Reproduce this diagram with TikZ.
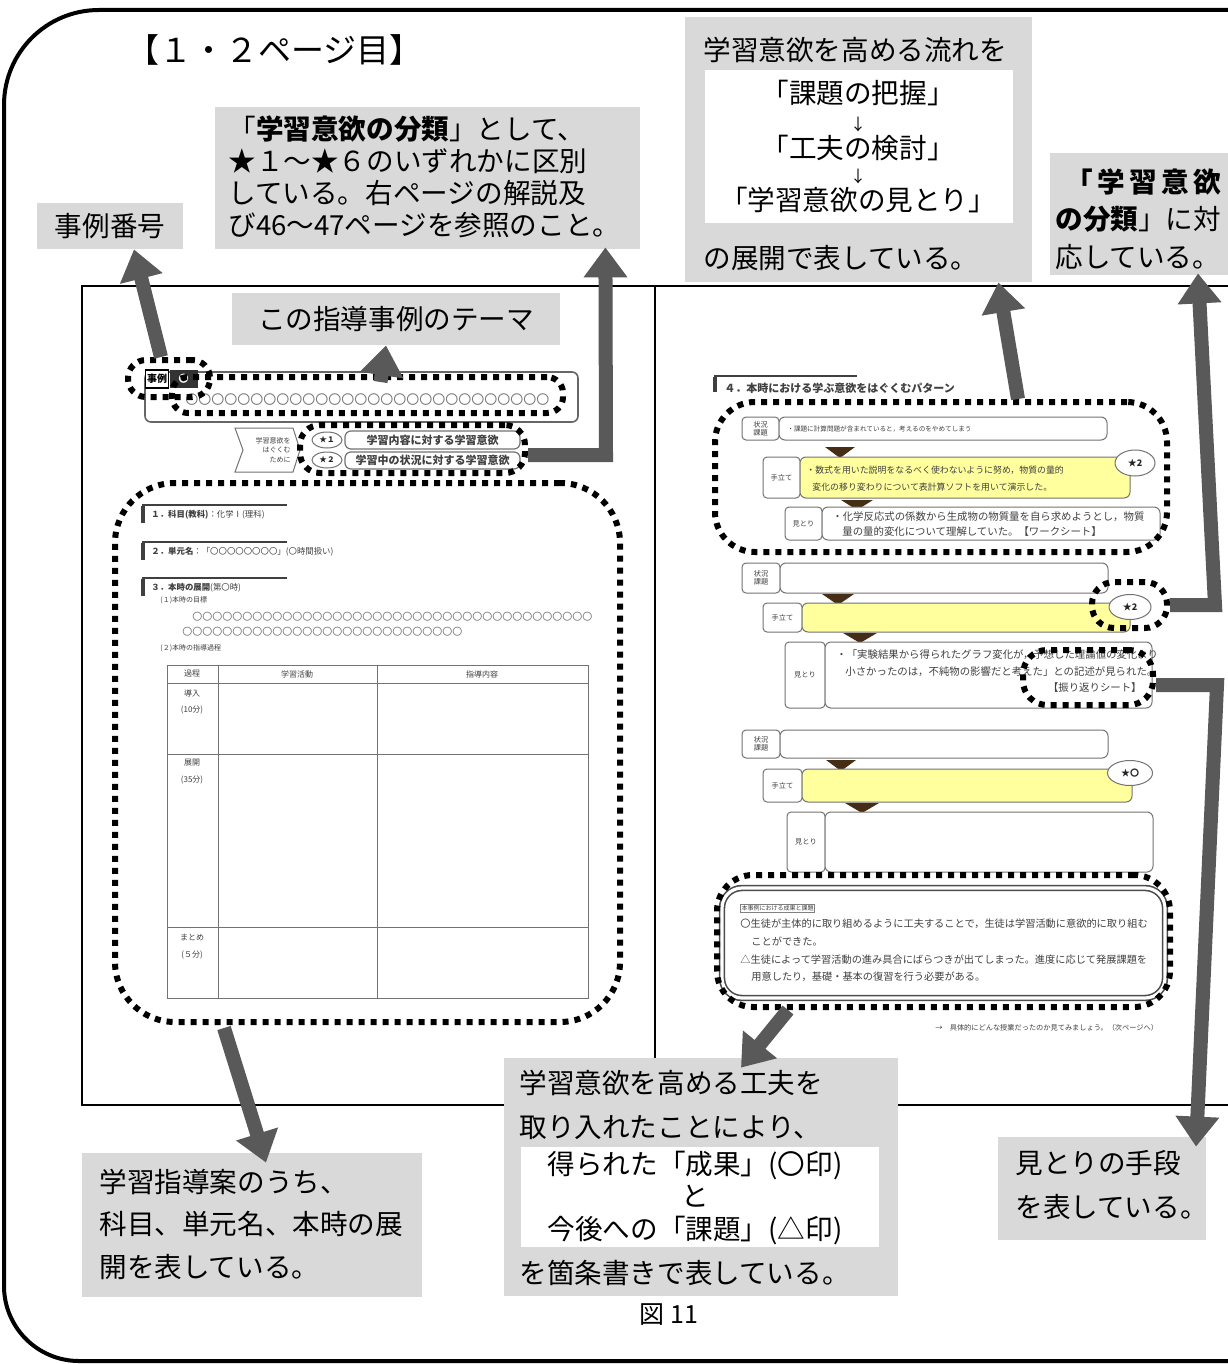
\documentclass[tikz,border=0pt]{standalone}
\usepackage{fontspec}
\setmainfont{Noto Sans CJK JP}
\usetikzlibrary{arrows.meta,shapes.geometric}
\definecolor{boxgray}{RGB}{217,217,217}
\definecolor{arrgray}{RGB}{89,89,89}
\definecolor{lyellow}{RGB}{255,255,158}
\definecolor{brownarr}{RGB}{70,46,22}
\newcommand{\fsz}[1]{\fontsize{#1}{#1}\selectfont}
\newcommand{\sevc}{〇〇〇〇〇〇〇}
\newcommand{\pbx}[7]{\node[#6, minimum width={(#4-#2)*0.5pt}, minimum height={(#5-#3)*0.5pt}] (#1) at ({(#2+#4)/2},{(#3+#5)/2}) {#7};}
\begin{document}
\begin{tikzpicture}[x=0.5pt,y=-0.5pt,
  gbox/.style={fill=boxgray, inner sep=0pt},
  wbox/.style={fill=white, inner sep=0pt},
  ctext/.style={inner sep=0pt, font=\fontsize{13.8}{16}\selectfont},
  tt/.style={inner sep=0pt, text=black!75, anchor=west},
  lbl/.style={draw=black!55, line width=0.5pt, rounded corners=2pt, fill=white, inner sep=0pt, align=center, text=black!75, font=\fontsize{3.6}{4.2}\selectfont},
  cbox/.style={draw=black!55, line width=0.5pt, rounded corners=3pt, fill=white, inner sep=0pt},
  ybox/.style={cbox, fill=lyellow},
  starl/.style={ellipse, draw=black!55, fill=white, line width=0.5pt, inner sep=0pt, text=black!85, font=\fsz{4.5}\bfseries},
  dotbox/.style={draw=black, line width=3pt, dash pattern=on 3pt off 3pt, inner sep=0pt},
  fat/.style={draw=arrgray, line width=7pt, line join=miter, -{Triangle[width=21pt,length=15pt]}},
  tline/.style={draw=black!55, line width=0.5pt}
]
\useasboundingbox (0,0) rectangle (1227,1364);
\fill[white] (0,0) rectangle (1227,1364);

% outer frame
\draw[line width=2pt] (1240,10) -- (99,10) .. controls (46.5,10) and (4,52.5) .. (4,105) -- (4,1286) .. controls (4,1327.4) and (37.6,1361) .. (79,1361) -- (1240,1361);

\node[inner sep=0pt, anchor=west, font=\fsz{16.5}] (title) at (126,50) {【１・２ページ目】};

% page frame
\draw[line width=0.8pt] (1240,286) -- (82,286) -- (82,1105) -- (1240,1105);
\draw[line width=0.8pt] (655,286) -- (655,1105);

% ---------- left page thumbnail ----------
\pbx{themef}{145}{372}{578}{422}{cbox, line width=0.8pt, draw=black!60}{}
\node[tt, font=\fsz{6.5}, text=black!55] (themec) at (185,400) {\sevc\sevc\sevc\sevc};
\node[draw=black, line width=0.7pt, fill=white, inner sep=0.8pt, font=\fsz{5}\bfseries, minimum height=9pt] (jlab) at (157,379) {事例};
\node[fill=black!80, text=white, inner sep=0pt, minimum width=14pt, minimum height=9pt, font=\fsz{5}\bfseries, anchor=west] (jnum) at (jlab.east) {〇};

\draw[tline, fill=white] (235,428) -- (293,428) -- (300,450) -- (293,472) -- (235,472) -- (243,450) -- cycle;
\node[tt, anchor=east, align=right, font=\fontsize{3.5}{4.6}\selectfont] (bant) at (291,450) {学習意欲を\\はぐくむ\\ために};
\node[starl, minimum width=15pt, minimum height=8pt, font=\fsz{3.8}\bfseries] (s1) at (327,440) {★１};
\pbx{r1}{345}{431}{520}{449}{cbox, line width=0.6pt, font=\fsz{5.5}\bfseries, text=black!75}{学習内容に対する学習意欲}
\node[starl, minimum width=15pt, minimum height=8pt, font=\fsz{3.8}\bfseries] (s2) at (327,460) {★２};
\pbx{r2}{345}{452}{520}{469}{cbox, line width=0.6pt, font=\fsz{5.5}\bfseries, text=black!75}{学習中の状況に対する学習意欲}

\draw[black!75, line width=0.8pt] (143,523) -- (143,505) -- (287,505);
\draw[black!75, line width=1.6pt] (143,523) -- (143,506);
\draw[black!75, line width=0.8pt] (143,560) -- (143,542) -- (287,542);
\draw[black!75, line width=1.6pt] (143,560) -- (143,543);
\draw[black!75, line width=0.8pt] (143,596) -- (143,578) -- (287,578);
\draw[black!75, line width=1.6pt] (143,596) -- (143,579);
\node[tt, font=\fsz{4.2}] (h1) at (151,515) {\textbf{１．科目(教科)}：化学Ⅰ(理科)};
\node[tt, font=\fsz{4.2}] (h2) at (151,552) {\textbf{２．単元名}：「〇〇〇〇〇〇〇〇」(〇時間扱い)};
\node[tt, font=\fsz{4.2}] (h3) at (151,588) {\textbf{３．本時の展開}(第〇時)};
\node[tt, font=\fsz{3.5}] (h3a) at (160,600) {(１)本時の目標};
\node[tt, font=\fsz{5}, text=black!55] (c1) at (192,617) {\sevc\sevc\sevc\sevc\sevc〇〇〇〇〇};
\node[tt, font=\fsz{5}, text=black!55] (c2) at (182,632) {\sevc\sevc\sevc\sevc};
\node[tt, font=\fsz{3.5}] (h3b) at (160,648) {(２)本時の指導過程};

\draw[tline] (167,665) rectangle (588,998);
\draw[tline] (218,665) -- (218,998) (377,665) -- (377,998) (167,683) -- (588,683) (167,754) -- (588,754) (167,927) -- (588,927);
\node[inner sep=0pt, text=black!75, font=\fsz{4}] (th1) at (192,674) {過程};
\node[inner sep=0pt, text=black!75, font=\fsz{4}] (th2) at (297,674) {学習活動};
\node[inner sep=0pt, text=black!75, font=\fsz{4}] (th3) at (482,674) {指導内容};
\node[inner sep=0pt, text=black!75, font=\fsz{4}] (tr1) at (192,693) {導入};
\node[inner sep=0pt, text=black!75, font=\fsz{4}] (tr1b) at (192,710) {(10分)};
\node[inner sep=0pt, text=black!75, font=\fsz{4}] (tr2) at (192,763) {展開};
\node[inner sep=0pt, text=black!75, font=\fsz{4}] (tr2b) at (192,780) {(35分)};
\node[inner sep=0pt, text=black!75, font=\fsz{4}] (tr3) at (192,937) {まとめ};
\node[inner sep=0pt, text=black!75, font=\fsz{4}] (tr3b) at (192,955) {(５分)};

% ---------- right page thumbnail ----------
\draw[black!75, line width=0.8pt] (715,392) -- (715,376) -- (857,376);
\draw[black!75, line width=1.6pt] (715,392) -- (715,377);
\node[tt, font=\fsz{5.5}\bfseries] (rh) at (724,388) {４．本時における学ぶ意欲をはぐくむパターン};

% pattern 1
\pbx{p1a}{742}{417}{779}{440}{lbl}{状況\\課題}
\pbx{p1b}{779}{417}{1107}{440}{cbox}{}
\node[tt, font=\fsz{3.3}] (p1bt) at (787,429) {・課題に計算問題が含まれていると，考えるのをやめてしまう};
\fill[brownarr] (825,447) -- (855,447) -- (840,458) -- cycle;
\pbx{p1c}{763}{457}{800}{498}{lbl}{手立て}
\pbx{p1d}{800}{457}{1130}{498}{ybox}{}
\node[tt, font=\fsz{4.45}] (p1dt) at (806,470) {・数式を用いた説明をなるべく使わないように努め，物質の量的};
\node[tt, font=\fsz{4.45}] (p1dt2) at (812,487) {変化の移り変わりについて表計算ソフトを用いて演示した。};
\node[starl, minimum width=20pt, minimum height=13pt] (st1) at (1135,463) {★2};
\fill[brownarr] (841,500) -- (873,500) -- (857,510) -- cycle;
\pbx{p1e}{785}{507}{822}{540}{lbl}{見とり}
\pbx{p1f}{822}{507}{1160}{540}{cbox}{}
\node[tt, font=\fsz{5.2}] (p1ft) at (832,517) {・化学反応式の係数から生成物の物質量を自ら求めようとし，物質};
\node[tt, font=\fsz{5.2}] (p1ft2) at (842,532) {量の量的変化について理解していた。【ワークシート】};

% pattern 2
\pbx{p2a}{742}{563}{780}{593}{lbl}{状況\\課題}
\pbx{p2b}{780}{563}{1108}{593}{cbox}{}
\fill[brownarr] (822,594) -- (854,594) -- (838,605) -- cycle;
\pbx{p2c}{763}{603}{802}{632}{lbl}{手立て}
\pbx{p2d}{802}{603}{1130}{632}{ybox}{}
\node[starl, minimum width=21pt, minimum height=12.5pt] (st2) at (1130,607) {★2};
\fill[brownarr] (843,633) -- (877,633) -- (860,643) -- cycle;
\pbx{p2e}{785}{642}{825}{708}{lbl}{見とり}
\pbx{p2f}{825}{642}{1152}{708}{cbox}{}
\node[tt, font=\fsz{5.2}] (p2ft) at (836,655) {・「実験結果から得られたグラフ変化が，予想した理論値の変化より};
\node[tt, font=\fsz{5.2}] (p2ft2) at (845,672) {小さかったのは，不純物の影響だと考えた」との記述が見られた。};
\node[tt, anchor=east, font=\fsz{5.2}] (p2ft3) at (1142,688) {【振り返りシート】};

% pattern 3
\pbx{p3a}{742}{730}{780}{758}{lbl}{状況\\課題}
\pbx{p3b}{780}{730}{1108}{758}{cbox}{}
\fill[brownarr] (826,760) -- (856,760) -- (841,771) -- cycle;
\pbx{p3c}{763}{769}{802}{802}{lbl}{手立て}
\pbx{p3d}{802}{769}{1132}{802}{ybox}{}
\node[starl, minimum width=22.5pt, minimum height=12.5pt] (st3) at (1130,773) {★〇};
\fill[brownarr] (845,803) -- (879,803) -- (862,813) -- cycle;
\pbx{p3e}{787}{812}{825}{872}{lbl}{見とり}
\pbx{p3f}{825}{812}{1153}{872}{cbox}{}

% result box
\pbx{res}{722}{888}{1165}{998}{draw=black!70, line width=0.8pt, double, double distance=1.6pt, rounded corners=10pt, inner sep=0pt}{}
\node[tt, draw=black!50, line width=0.4pt, inner sep=0.6pt, font=\fsz{3}] (rt0) at (740,908) {本事例における成果と課題};
\node[tt, font=\fsz{5.1}] (rt1) at (740,924) {〇生徒が主体的に取り組めるように工夫することで，生徒は学習活動に意欲的に取り組む};
\node[tt, font=\fsz{5.1}] (rt2) at (751,941) {ことができた。};
\node[tt, font=\fsz{5.1}] (rt3) at (740,960) {△生徒によって学習活動の進み具合にばらつきが出てしまった。進度に応じて発展課題を};
\node[tt, font=\fsz{5.1}] (rt4) at (751,977) {用意したり，基礎・基本の復習を行う必要がある。};
\node[tt, font=\fsz{3.6}] (foot) at (935,1028) {→　具体的にどんな授業だったのか見てみましょう。（次ページへ）};

% ---------- dotted highlights ----------
\pbx{dA}{128}{360}{210}{397}{dotbox, rounded corners=9pt}{}
\pbx{dB}{172}{377}{563}{413}{dotbox, rounded corners=8pt}{}
\pbx{dC}{300}{425}{525}{473}{dotbox, rounded corners=10pt}{}
\pbx{dD}{115}{483}{620}{1022}{dotbox, rounded corners=30pt}{}
\pbx{dE}{715}{402}{1167}{552}{dotbox, rounded corners=20pt}{}
\pbx{dF}{1092}{582}{1167}{628}{dotbox, rounded corners=11pt}{}
\pbx{dG}{1023}{650}{1153}{705}{dotbox, rounded corners=12pt}{}
\pbx{dH}{717}{875}{1170}{1007}{dotbox, rounded corners=18pt}{}

% ---------- callout boxes ----------
\pbx{b1}{37}{203}{183}{249}{gbox, font=\fsz{13.8}}{事例番号}
\pbx{b2}{215}{107}{640}{249}{gbox}{}
\node[ctext, anchor=west, align=left, font=\fontsize{13.8}{16}\selectfont] (t2) at (228,177) {「\textbf{学習意欲の分類}」として、\\★１～★６のいずれかに区別\\している。右ページの解説及\\び46～47ページを参照のこと。};

\pbx{b3}{685}{17}{1032}{282}{gbox}{}
\node[ctext, anchor=west] (t3a) at (703,50) {学習意欲を高める流れを};
\pbx{w3}{705}{70}{1013}{223}{wbox}{}
\node[ctext] (t3b) at (858,93) {「課題の把握」};
\node[inner sep=0pt, font=\fsz{8}] (t3c) at (858,124) {↓};
\node[ctext] (t3d) at (858,148) {「工夫の検討」};
\node[inner sep=0pt, font=\fsz{8}] (t3e) at (858,176) {↓};
\node[ctext] (t3f) at (858,200) {「学習意欲の見とり」};
\node[ctext, anchor=west] (t3g) at (703,258) {の展開で表している。};

\pbx{b4}{1050}{153}{1240}{275}{gbox}{}
\node[ctext, anchor=west, align=left, font=\fontsize{13.8}{18.75}\selectfont] (t4) at (1055,219) {\makebox[83pt][l]{\hspace*{5pt}\bfseries 「\hfill 学\hfill 習\hfill 意\hfill 欲}\\\textbf{の分類}」に対\\応している。};

\pbx{b5}{232}{293}{560}{345}{gbox, font=\fsz{13.8}}{この指導事例のテーマ}

\pbx{b6}{82}{1153}{422}{1297}{gbox}{}
\node[ctext, anchor=west, align=left, font=\fontsize{13.8}{21.25}\selectfont] (t6) at (99,1224) {学習指導案のうち、\\科目、単元名、本時の展\\開を表している。};

\pbx{b7}{504}{1058}{898}{1296}{gbox}{}
\node[ctext, anchor=west] (t7a) at (519,1083) {学習意欲を高める工夫を};
\node[ctext, anchor=west] (t7b) at (519,1128) {取り入れたことにより、};
\pbx{w7}{521}{1147}{879}{1247}{wbox}{}
\node[ctext, align=center, font=\fontsize{13.8}{16.25}\selectfont] (t7c) at (695,1198) {得られた「成果」(〇印)\\と\\今後への「課題」(△印)};
\node[ctext, anchor=west] (t7d) at (519,1273) {を箇条書きで表している。};

\pbx{b8}{998}{1137}{1206}{1240}{gbox}{}
\node[ctext, anchor=west, align=left, font=\fontsize{13.8}{22}\selectfont] (t8) at (1015,1185) {見とりの手段\\を表している。};

\node[inner sep=0pt, font=\fsz{12.5}] (cap) at (669,1315) {図 11};

% ---------- arrows ----------
\coordinate (k3) at (606,455);
\coordinate (k5) at (1215,605);
\coordinate (k6) at (1217,685);
\draw[fat] ([xshift=-4pt]dA.north) -- ([xshift=12pt]b1.south);
\draw[fat] ([xshift=6.5pt,yshift=-4pt]dB.north) -- ([xshift=-5pt]b5.south);
\draw[fat] ([yshift=-3pt]dC.east) -- (k3) -- ([xshift=-17.5pt,yshift=1pt]b2.south east);
\draw[fat] ([xshift=38.5pt]dE.north) -- ([xshift=-17pt]b3.south east);
\draw[fat] (dF.east) -- (k5) -- ([xshift=26.5pt,yshift=1pt]b4.south);
\draw[fat] ([yshift=-3.75pt]dG.east) -- (k6) -- ([xshift=47pt,yshift=-5pt]b8.north);
\draw[fat] ([xshift=-71.75pt,yshift=-1.5pt]dD.south) -- ([xshift=7pt,yshift=-5pt]b6.north);
\draw[fat] ([xshift=-77.75pt]dH.south) -- ([xshift=20pt,yshift=-5pt]b7.north);
\end{tikzpicture}
\end{document}
